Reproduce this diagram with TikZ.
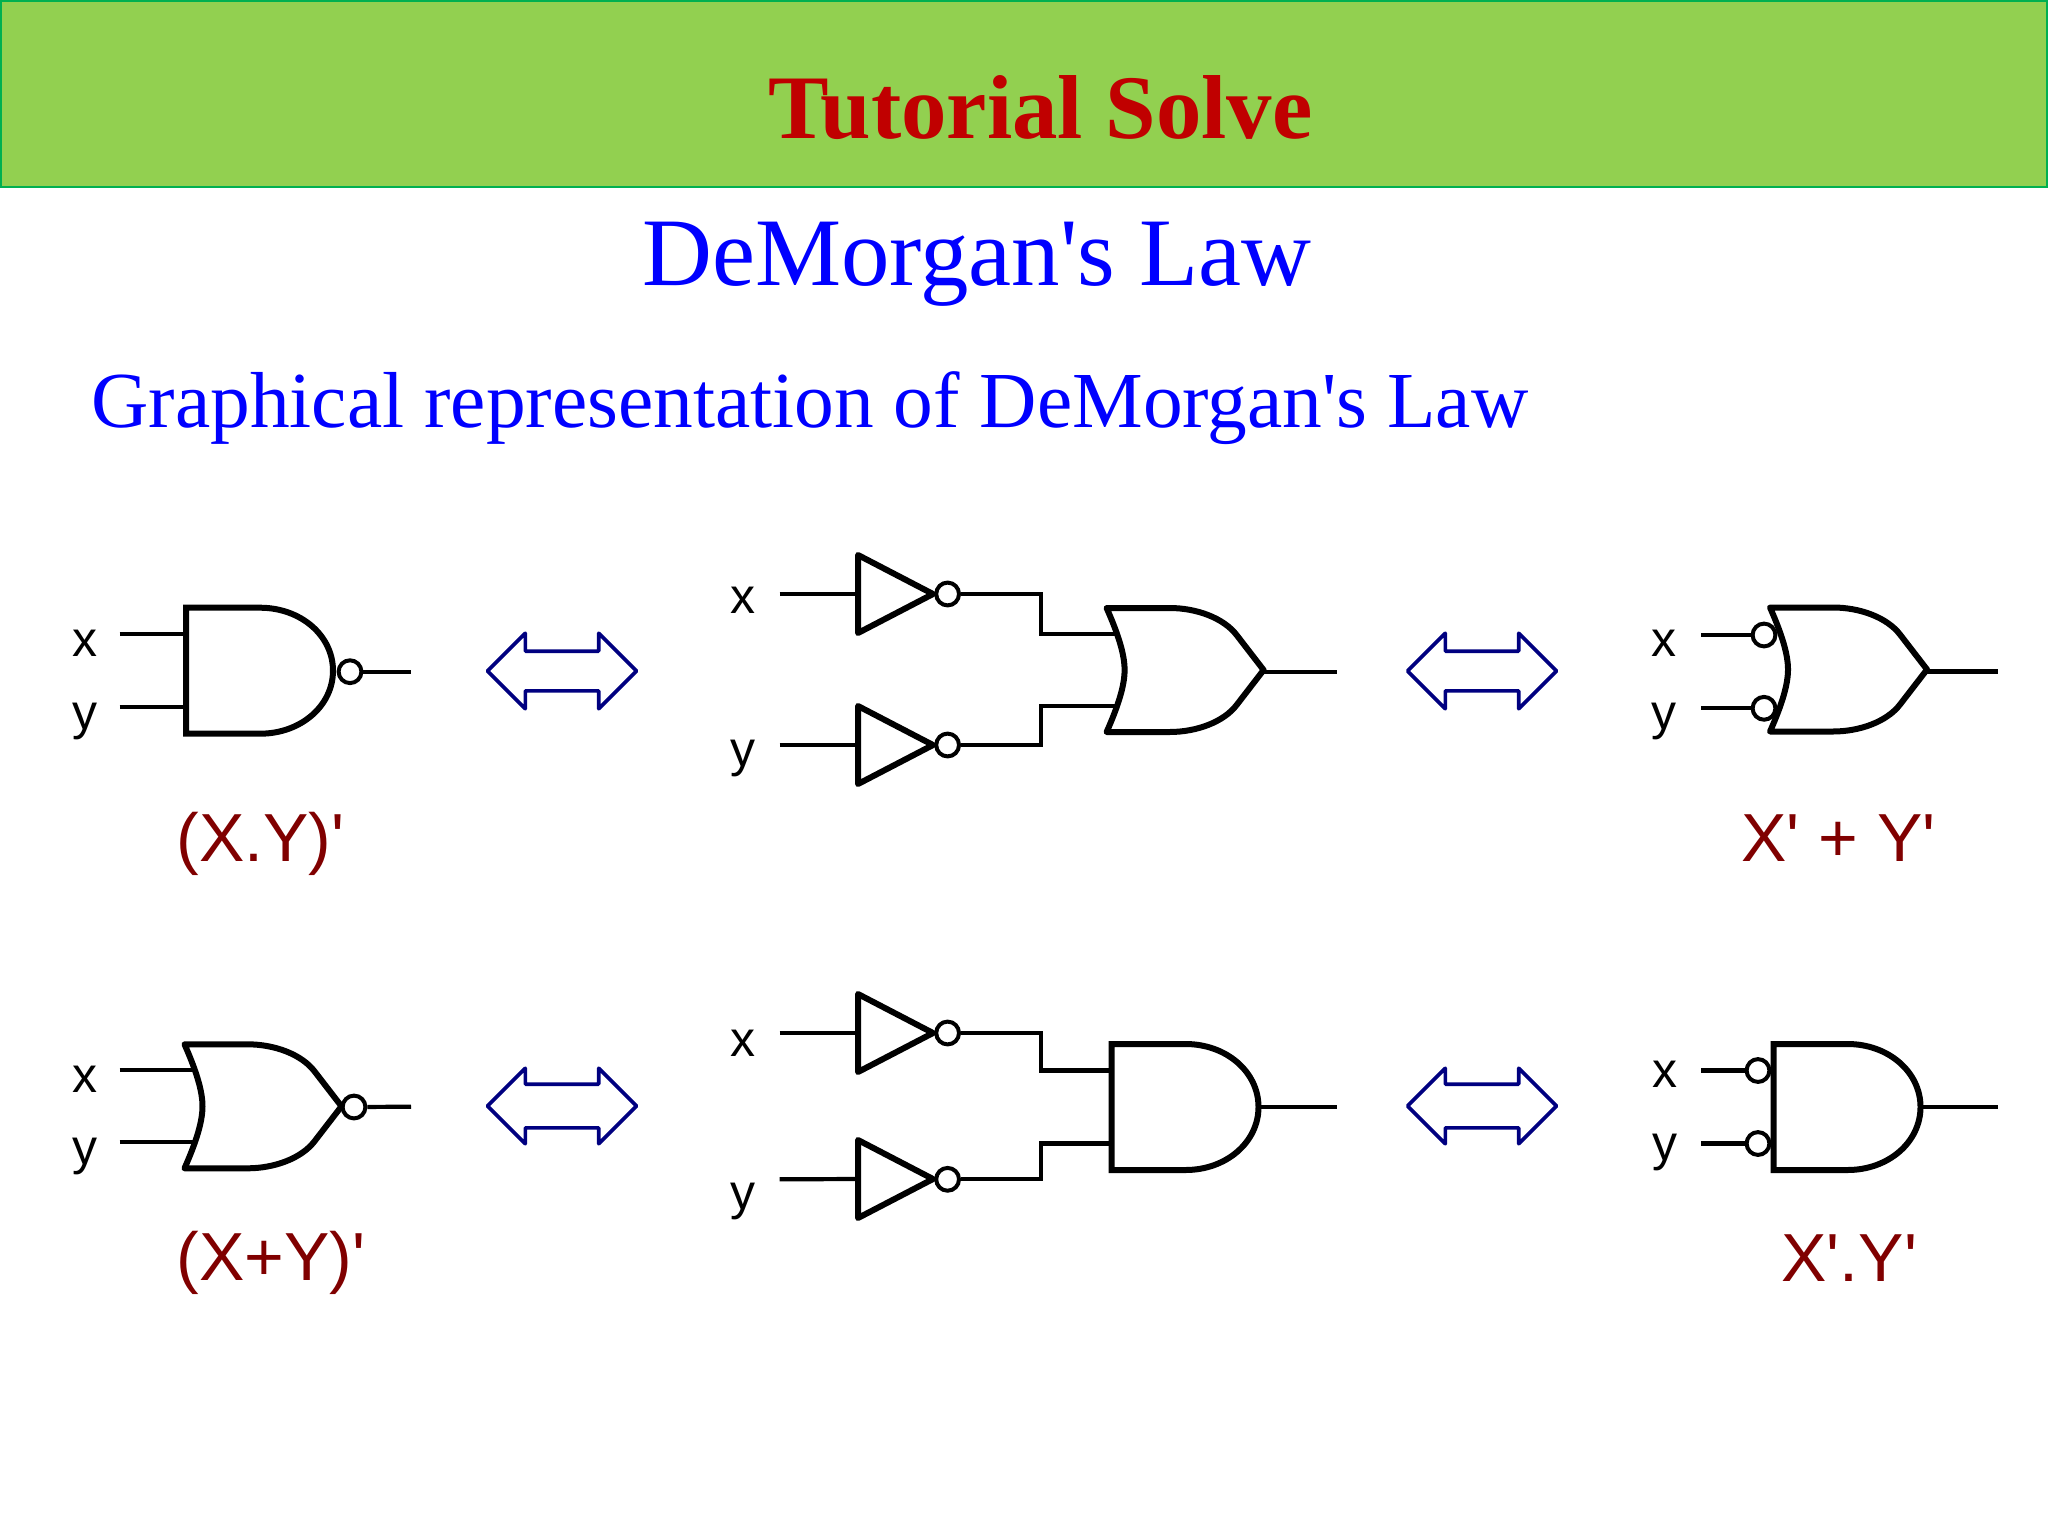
\documentclass[tikz,border=0pt]{standalone}
\usepackage{fontspec}
\setmainfont{Liberation Sans}
\newfontfamily\sansface{Liberation Sans}
\newfontfamily\serifface{Liberation Serif}
\usetikzlibrary{shapes.arrows}
\definecolor{bannergreen}{HTML}{92D050}
\definecolor{bannerline}{HTML}{00B050}
\definecolor{titlered}{HTML}{C00000}
\definecolor{formulared}{HTML}{800000}
\definecolor{arrowblue}{HTML}{000080}
\tikzset{
    gateline/.style={line width=3pt, line join=round},
    wire/.style={line width=2.1pt},
    andgate/.pic={
        \draw[gateline, miter limit=10, line join=miter] (74,-63) -- (0,-63) -- (0,63) -- (74,63)
            .. controls (115,63) and (147,35) .. (147,0)
            .. controls (147,-35) and (115,-63) .. (74,-63) -- cycle;
        \coordinate (-in1) at (0,-36.5);
        \coordinate (-in2) at (0,36.5);
        \coordinate (-out) at (147,0);
    },
    orgate/.pic={
        \draw[gateline] (0,-62) -- (63,-62)
            .. controls (90,-62) and (117,-52) .. (130,-35) -- (157,0)
            -- (130,35) .. controls (117,52) and (90,62) .. (63,62) -- (0,62)
            .. controls (12,35) and (18,15) .. (18,0)
            .. controls (18,-15) and (12,-35) .. (0,-62) -- cycle;
        \coordinate (-in1) at (8,-36);
        \coordinate (-in2) at (8,36);
        \coordinate (-out) at (157,2);
    },
    notgate/.pic={
        \draw[gateline] (0,-39) -- (75,0) -- (0,39) -- cycle;
        \coordinate (-in) at (0,0);
    }
}
\begin{document}
\begin{tikzpicture}[x=0.5pt, y=-0.5pt,
        every node/.style={inner sep=0pt},
        bubble/.style={circle, draw, line width=2pt, minimum size=11.4pt},
        swaparrow/.style={double arrow, draw=arrowblue, line width=1.8pt, line join=round, inner ysep=9pt,
            minimum height=74.5pt, minimum width=36pt, double arrow head extend=9pt},
        swaplow/.style={swaparrow, inner ysep=10pt, double arrow head extend=8pt},
        varlabel/.style={anchor=base, font=\fontsize{25}{30}\selectfont},
        formula/.style={anchor=base west, text=formulared, font=\sansface\fontsize{34}{40}\selectfont}]
    \useasboundingbox (0,0) rectangle (2048,1536);
    \draw[fill=bannergreen, draw=bannerline, line width=1pt] (1,1) rectangle (2047,186.5);
    \node[anchor=base, text=titlered, font=\serifface\bfseries\fontsize{45.4}{54}\selectfont] (title) at (1040.5,138.3) {Tutorial Solve};
    \node[anchor=base, text=blue, font=\serifface\fontsize{48.4}{60}\selectfont] (heading) at (977,285) {DeMorgan's Law};
    \node[anchor=base west, text=blue, font=\serifface\fontsize{39.7}{48}\selectfont] (subheading) at (91,427.3) {Graphical representation of DeMorgan's Law};

    % top row, left
    \pic (nandA) at (186,670.7) {andgate};
    \node[bubble] (dotA) at (350,671.7) {};
    \coordinate (xA) at (119.5,634.2);
    \coordinate (yA) at (119.5,707.2);
    \coordinate (outA) at (411,671.7);
    \draw[wire] (xA) -- (nandA-in1);
    \draw[wire] (yA) -- (nandA-in2);
    \draw[wire] (dotA) -- (outA);
    \node[varlabel] (labxA) at (85,656.7) {x};
    \node[varlabel] (labyA) at (85,729.5) {y};
    \node[formula] (formA) at (176,861.7) {(X.Y)'};
    \node[swaparrow] (swapA) at (562,671) {};

    % top row, middle
    \pic (invB) at (858,594) {notgate};
    \pic (invC) at (858,745) {notgate};
    \node[bubble] (dotB) at (947.6,594) {};
    \node[bubble] (dotC) at (947.6,745) {};
    \pic (orB) at (1106.6,670) {orgate};
    \coordinate (xB) at (779.7,594);
    \coordinate (yB) at (779.7,745);
    \coordinate (outB) at (1337,672);
    \draw[wire] (xB) -- (invB-in);
    \draw[wire] (yB) -- (invC-in);
    \draw[wire] (dotB) -- ++(93.4,0) |- (orB-in1);
    \draw[wire] (dotC) -- ++(93.4,0) |- (orB-in2);
    \draw[wire] (orB-out) -- (outB);
    \node[varlabel] (labxB) at (742.5,613.3) {x};
    \node[varlabel] (labyB) at (742.5,766.5) {y};
    \node[swaparrow] (swapB) at (1482,671) {};

    % top row, right
    \pic (orD) at (1770,669.5) {orgate};
    \node[bubble] (dotD) at (1764,635) {};
    \node[bubble] (dotE) at (1764,708.3) {};
    \coordinate (xD) at (1701.4,635);
    \coordinate (yD) at (1701.4,708.3);
    \coordinate (outD) at (1997.5,671.5);
    \draw[wire] (xD) -- (dotD);
    \draw[wire] (yD) -- (dotE);
    \draw[wire] (orD-out) -- (outD);
    \node[varlabel] (labxD) at (1664,656) {x};
    \node[varlabel] (labyD) at (1664,729.5) {y};
    \node[formula] (formD) at (1741,861.7) {X' + Y'};

    % bottom row, left
    \pic (norF) at (184.5,1106.3) {orgate};
    \node[bubble] (dotF) at (354,1107) {};
    \coordinate (xF) at (119.5,1070.3);
    \coordinate (yF) at (119.5,1142.3);
    \coordinate (outF) at (411,1106.7);
    \draw[wire] (xF) -- (norF-in1);
    \draw[wire] (yF) -- (norF-in2);
    \draw[wire] (dotF) -- (outF);
    \node[varlabel] (labxF) at (85,1092.3) {x};
    \node[varlabel] (labyF) at (85,1164.5) {y};
    \node[formula] (formF) at (176,1280.7) {(X+Y)'};
    \node[swaplow] (swapF) at (562,1106) {};

    % bottom row, middle
    \pic (invG) at (858,1033) {notgate};
    \pic (invH) at (858,1179) {notgate};
    \node[bubble] (dotG) at (947.6,1033) {};
    \node[bubble] (dotH) at (947.6,1179.3) {};
    \pic (andG) at (1111.5,1107) {andgate};
    \coordinate (xG) at (779.7,1033);
    \coordinate (yG) at (779.7,1179.3);
    \coordinate (outG) at (1337,1107);
    \draw[wire] (xG) -- (invG-in);
    \draw[wire] (yG) -- (invH-in);
    \draw[wire] (dotG) -- ++(93.4,0) |- (andG-in1);
    \draw[wire] (dotH) -- ++(93.4,0) |- (andG-in2);
    \draw[wire] (andG-out) -- (outG);
    \node[varlabel] (labxG) at (742.5,1056.7) {x};
    \node[varlabel] (labyG) at (742.5,1209.8) {y};
    \node[swaplow] (swapG) at (1482,1106) {};

    % bottom row, right
    \pic (andJ) at (1773.5,1107) {andgate};
    \node[bubble] (dotJ) at (1758,1070.5) {};
    \node[bubble] (dotK) at (1758,1143.5) {};
    \coordinate (xJ) at (1701.4,1070.5);
    \coordinate (yJ) at (1701.4,1143.5);
    \coordinate (outJ) at (1997.5,1107);
    \draw[wire] (xJ) -- (dotJ);
    \draw[wire] (yJ) -- (dotK);
    \draw[wire] (andJ-out) -- (outJ);
    \node[varlabel] (labxJ) at (1665,1087.3) {x};
    \node[varlabel] (labyJ) at (1665,1160.5) {y};
    \node[formula] (formJ) at (1781,1281) {X'.Y'};
\end{tikzpicture}
\end{document}
